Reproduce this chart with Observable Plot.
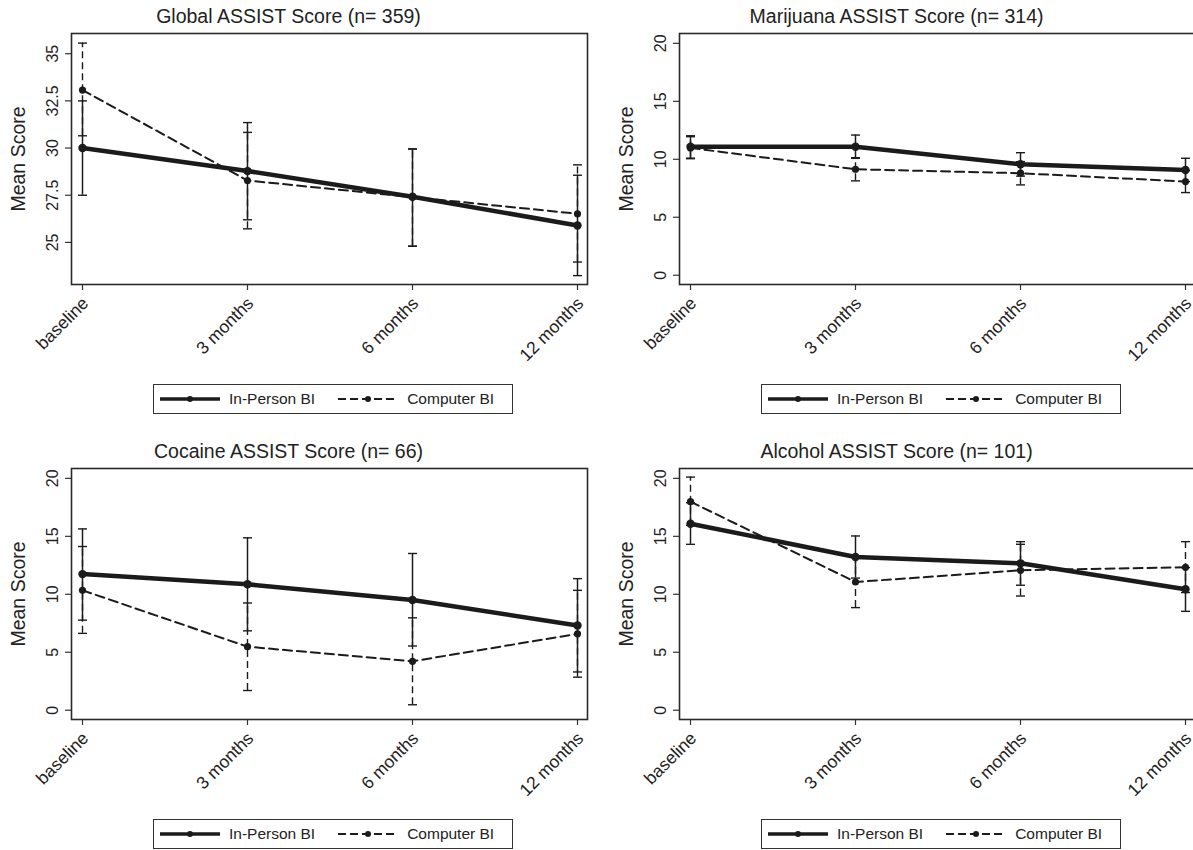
<!DOCTYPE html>
<html>
<head>
<meta charset="utf-8">
<script src="https://cdn.jsdelivr.net/npm/d3@7"></script>
<script src="https://cdn.jsdelivr.net/npm/@observablehq/plot@0.6"></script>
<style>
  html, body { margin: 0; padding: 0; background: #fff; }
  body { width: 1193px; height: 850px; overflow: hidden; position: relative;
         font-family: "Liberation Sans", Arial, Helvetica, sans-serif; color: #222; }
  .panel { position: absolute; }
  .legend { position: absolute; box-sizing: border-box; border: 1px solid #333; background: #fff;
            display: flex; align-items: center; font-size: 15.5px; color: #222; padding-left: 5px;
            white-space: nowrap; }
  .legend span { margin-left: 8px; margin-right: 22px; white-space: nowrap; flex: none; }
  .legend svg { display: block; flex: none; }
</style>
</head>
<body>
<script>
// ---------- data ----------
const times = ["baseline", "3 months", "6 months", "12 months"];
const groups = ["In-Person BI", "Computer BI"];
const titles = ["Global ASSIST Score (n= 359)", "Marijuana ASSIST Score (n= 314)",
                "Cocaine ASSIST Score (n= 66)", "Alcohol ASSIST Score (n= 101)"];
const yLabel = "Mean Score";

// Global
const globalInMean = [30.0, 28.78, 27.42, 25.9];
const globalInLo   = [27.5, 26.2, 24.8, 23.24];
const globalInHi   = [32.5, 31.35, 29.95, 28.56];
const globalCoMean = [33.07, 28.28, 27.4, 26.52];
const globalCoLo   = [30.65, 25.72, 24.8, 23.96];
const globalCoHi   = [35.56, 30.83, 29.95, 29.11];
// Marijuana
const marijInMean = [11.08, 11.08, 9.57, 9.08];
const marijInLo   = [10.1, 10.08, 8.55, 8.08];
const marijInHi   = [12.03, 12.09, 10.57, 10.09];
const marijCoMean = [10.98, 9.14, 8.8, 8.08];
const marijCoLo   = [10.05, 8.14, 7.79, 7.13];
const marijCoHi   = [11.95, 10.14, 9.8, 9.03];
// Cocaine
const cocInMean = [11.74, 10.86, 9.51, 7.31];
const cocInLo   = [7.77, 6.85, 5.54, 3.30];
const cocInHi   = [15.64, 14.87, 13.52, 11.35];
const cocCoMean = [10.34, 5.48, 4.22, 6.59];
const cocCoLo   = [6.63, 1.70, 0.47, 2.85];
const cocCoHi   = [14.12, 9.25, 7.97, 10.34];
// Alcohol
const alcInMean = [16.09, 13.22, 12.67, 10.43];
const alcInLo   = [14.31, 11.4, 10.78, 8.53];
const alcInHi   = [17.9, 15.03, 14.54, 12.3];
const alcCoMean = [17.99, 11.06, 12.07, 12.33];
const alcCoLo   = [15.95, 8.85, 9.85, 10.15];
const alcCoHi   = [20.11, 13.3, 14.31, 14.54];

// axis extents and ticks
const globalDomain = [22.77, 36.07];
const globalTicks = [25, 27.5, 30, 32.5, 35];
const substanceDomain = [-0.8, 20.85];
const substanceTicks = [0, 5, 10, 15, 20];

// ---------- build ----------
const ink = "#1b1b1b";
const capSymbol = { draw(ctx, size) { const w = Math.sqrt(size / Math.PI); ctx.moveTo(-w, 0); ctx.lineTo(w, 0); } };

function rows(group, mean, lo, hi) {
  return times.map((t, i) => ({ time: t, group, mean: mean[i], lo: lo[i], hi: hi[i] }));
}

const panels = [
  { title: titles[0], domain: globalDomain, ticks: globalTicks,
    inp: rows(groups[0], globalInMean, globalInLo, globalInHi), com: rows(groups[1], globalCoMean, globalCoLo, globalCoHi) },
  { title: titles[1], domain: substanceDomain, ticks: substanceTicks,
    inp: rows(groups[0], marijInMean, marijInLo, marijInHi), com: rows(groups[1], marijCoMean, marijCoLo, marijCoHi) },
  { title: titles[2], domain: substanceDomain, ticks: substanceTicks,
    inp: rows(groups[0], cocInMean, cocInLo, cocInHi), com: rows(groups[1], cocCoMean, cocCoLo, cocCoHi) },
  { title: titles[3], domain: substanceDomain, ticks: substanceTicks,
    inp: rows(groups[0], alcInMean, alcInLo, alcInHi), com: rows(groups[1], alcCoMean, alcCoLo, alcCoHi) }
];
const offsets = [[0, 0], [608, 0], [0, 435], [608, 435]];

panels.forEach((p, k) => {
  const plot = Plot.plot({
    width: 596, height: 370,
    marginLeft: 71, marginRight: 9, marginTop: 33, marginBottom: 86,
    style: { fontFamily: "'Liberation Sans', Arial, Helvetica, sans-serif", color: "#222", background: "transparent", overflow: "visible" },
    x: { type: "point", domain: times, padding: 0, inset: 10.5, label: null },
    y: { domain: p.domain, label: null },
    marks: [
      Plot.axisY({ ticks: p.ticks, tickSize: 6, tickFormat: () => "", stroke: "#333", strokeWidth: 1.2, label: null }),
      Plot.text(p.ticks, { y: d => d, text: d => String(d), frameAnchor: "left", dx: -14, rotate: -90,
                           textAnchor: "middle", lineAnchor: "bottom", fontSize: 16, fill: "#222" }),
      Plot.axisX({ tickSize: 6, tickFormat: () => "", stroke: "#333", strokeWidth: 1.2, label: null }),
      Plot.text(times, { x: d => d, text: d => d, frameAnchor: "bottom", dx: 3, dy: 16, rotate: -45,
                         textAnchor: "end", lineAnchor: "middle", fontSize: 17.5, fill: "#222" }),
      Plot.text([yLabel], { frameAnchor: "left", dx: -47, rotate: -90, textAnchor: "middle",
                            lineAnchor: "bottom", fontSize: 19.5, fill: "#222" }),
      Plot.text([p.title], { frameAnchor: "top", dx: -41, dy: -17, textAnchor: "middle",
                             lineAnchor: "middle", fontSize: 19.5, fill: "#222" }),
      // error bars
      Plot.ruleX(p.inp, { x: "time", y1: "lo", y2: "hi", stroke: ink, strokeWidth: 1.5 }),
      Plot.ruleX(p.com, { x: "time", y1: "lo", y2: "hi", stroke: ink, strokeWidth: 1.4, strokeDasharray: "7,4" }),
      Plot.dot(p.inp.concat(p.com), { x: "time", y: "lo", symbol: capSymbol, r: 4.5, stroke: ink, strokeWidth: 1.4, fill: "none" }),
      Plot.dot(p.inp.concat(p.com), { x: "time", y: "hi", symbol: capSymbol, r: 4.5, stroke: ink, strokeWidth: 1.4, fill: "none" }),
      // lines
      Plot.line(p.com, { x: "time", y: "mean", stroke: ink, strokeWidth: 2, strokeDasharray: "9,5" }),
      Plot.line(p.inp, { x: "time", y: "mean", stroke: ink, strokeWidth: 4.5 }),
      Plot.dot(p.com, { x: "time", y: "mean", r: 3.6, fill: ink, stroke: "none" }),
      Plot.dot(p.inp, { x: "time", y: "mean", r: 4.2, fill: ink, stroke: "none" }),
      Plot.frame({ stroke: "#2a2a2a", strokeWidth: 1.6 })
    ]
  });
  plot.classList.add("panel");
  plot.style.left = offsets[k][0] + "px";
  plot.style.top = offsets[k][1] + "px";
  plot.style.position = "absolute";
  document.body.appendChild(plot);

  // legend
  const lg = document.createElement("div");
  lg.className = "legend";
  lg.style.left = (offsets[k][0] + 153) + "px";
  lg.style.top = (offsets[k][1] + 384) + "px";
  lg.style.width = "360px";
  lg.style.height = "30px";
  const sw = (dash, w) => `<svg width="62" height="12"><line x1="1" x2="61" y1="6" y2="6" stroke="${ink}" stroke-width="${w}" ${dash ? `stroke-dasharray="${dash}"` : ""}/><circle cx="31" cy="6" r="3" fill="${ink}"/></svg>`;
  lg.innerHTML = sw(null, 3.5) + `<span>${groups[0]}</span>` + sw("8,4", 2) + `<span>${groups[1]}</span>`;
  document.body.appendChild(lg);
});
</script>
</body>
</html>
